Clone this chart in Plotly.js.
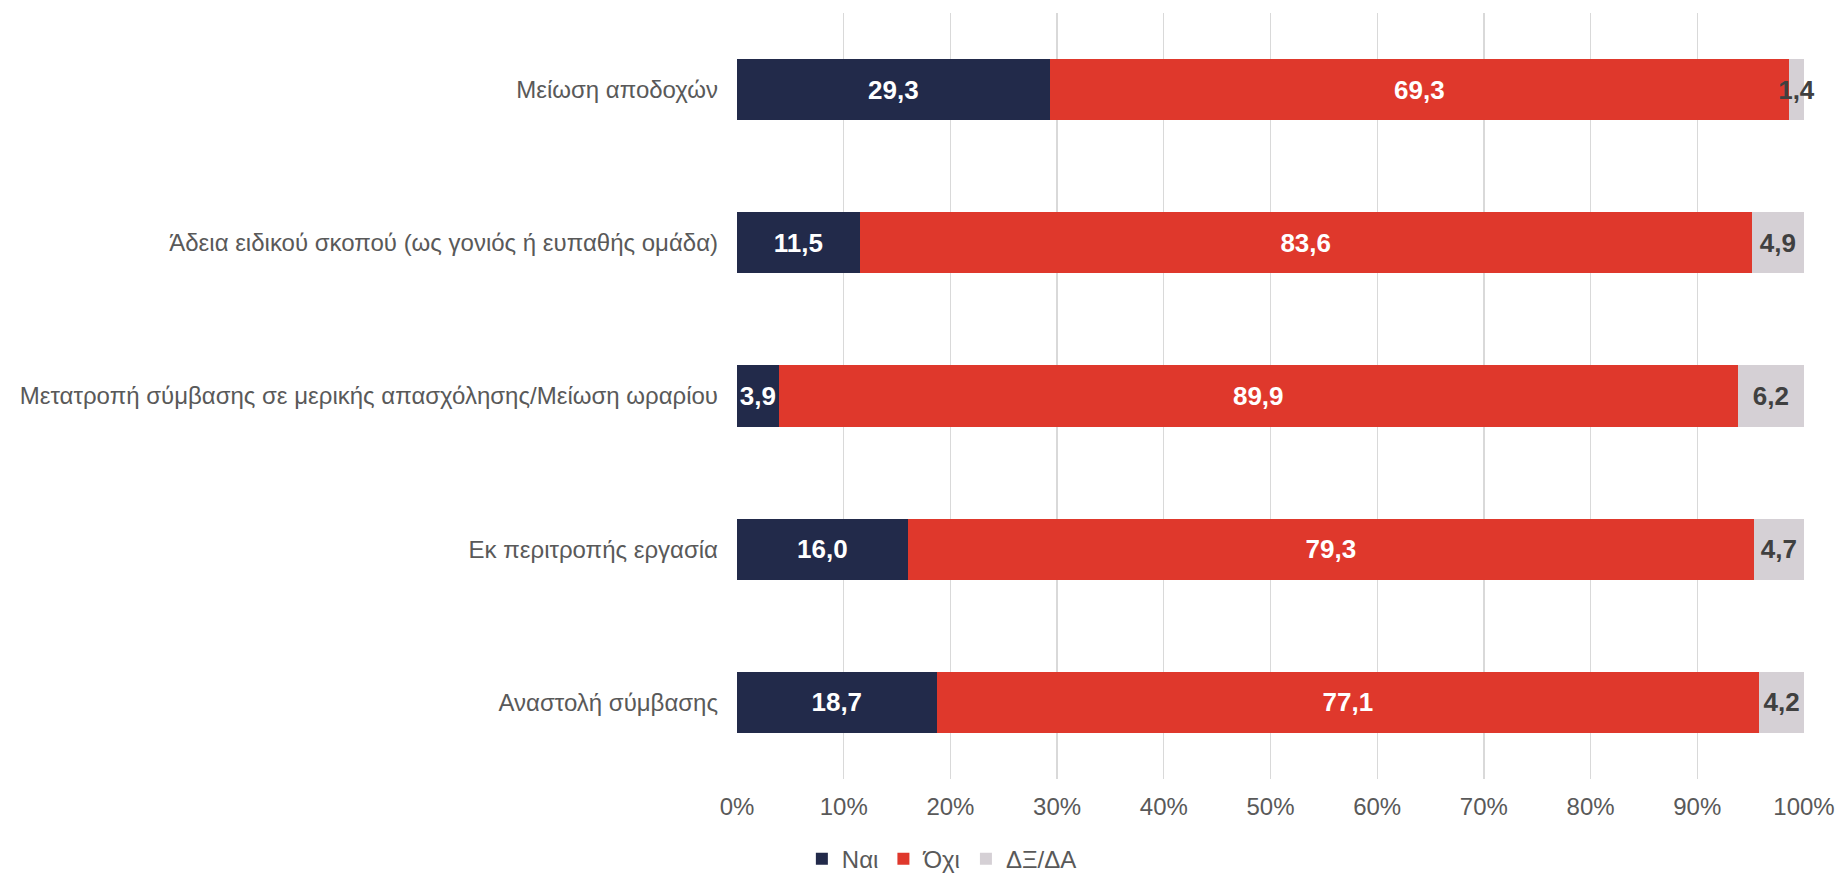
<!DOCTYPE html>
<html>
<head>
<meta charset="utf-8">
<script src="https://cdn.plot.ly/plotly-3.0.1.min.js"></script>
<style>html,body{margin:0;padding:0;background:#fff;}#chart{width:1836px;height:874px;}</style>
</head>
<body>
<div id="chart"></div>
<script>
// Categories listed top to bottom as in the chart
const categories = [
  "Μείωση αποδοχών",
  "Άδεια ειδικού σκοπού (ως γονιός ή ευπαθής ομάδα)",
  "Μετατροπή σύμβασης σε μερικής απασχόλησης/Μείωση ωραρίου",
  "Εκ περιτροπής εργασία",
  "Αναστολή σύμβασης"
];
const seriesNames = ["Ναι", "Όχι", "ΔΞ/ΔΑ"];
const nai  = [29.3, 11.5, 3.9, 16.0, 18.7];
const ochi = [69.3, 83.6, 89.9, 79.3, 77.1];
const dxda = [1.4, 4.9, 6.2, 4.7, 4.2];
const tickVals = [0,10,20,30,40,50,60,70,80,90,100];
const tickLabels = tickVals.map(v => v + "%");

const colors = ["#222A4A", "#DF382C", "#D5D0D5"];
const textColors = ["#FFFFFF", "#FFFFFF", "#404040"];
const values = [nai, ochi, dxda];

const fmt = v => v.toFixed(1).replace(".", ",");

const traces = values.map((vals, i) => ({
  type: "bar",
  orientation: "h",
  name: seriesNames[i],
  y: categories,
  x: vals,
  text: vals.map(fmt),
  textposition: "inside",
  insidetextanchor: "middle",
  textangle: 0,
  constraintext: "none",
  cliponaxis: false,
  textfont: {family: "Liberation Sans, Arial, sans-serif", size: 26, color: textColors[i], weight: "bold"},
  marker: {color: colors[i], line: {width: 0}},
  hoverinfo: "skip"
}));

const layout = {
  width: 1836,
  height: 874,
  barmode: "stack",
  bargap: 0.6,
  paper_bgcolor: "#ffffff",
  plot_bgcolor: "#ffffff",
  margin: {l: 737, r: 32, t: 13, b: 95},
  font: {family: "Liberation Sans, Arial, sans-serif", size: 24, color: "#595959"},
  uniformtext: {mode: "show", minsize: 26},
  xaxis: {
    range: [0, 100.001],
    tickvals: tickVals,
    ticktext: tickLabels,
    showgrid: true,
    gridcolor: "#D9D9D9",
    gridwidth: 1.3,
    zeroline: false,
    showline: false,
    ticks: "",
    ticklabelstandoff: 11,
    tickfont: {size: 24, color: "#595959"},
    fixedrange: true
  },
  yaxis: {
    categoryorder: "array",
    categoryarray: categories,
    autorange: "reversed",
    showgrid: false,
    zeroline: false,
    showline: false,
    ticks: "",
    ticklabelstandoff: 18,
    tickfont: {size: 24, color: "#595959"},
    fixedrange: true
  },
  showlegend: true,
  legend: {
    orientation: "h",
    xref: "container",
    yref: "container",
    x: 0.513,
    xanchor: "center",
    y: 0.017,
    yanchor: "middle",
    font: {size: 24, color: "#595959"},
    itemwidth: 30,
    tracegroupgap: 0,
    traceorder: "normal"
  }
};

Plotly.newPlot("chart", traces, layout, {displayModeBar: false, staticPlot: true});
</script>
</body>
</html>
